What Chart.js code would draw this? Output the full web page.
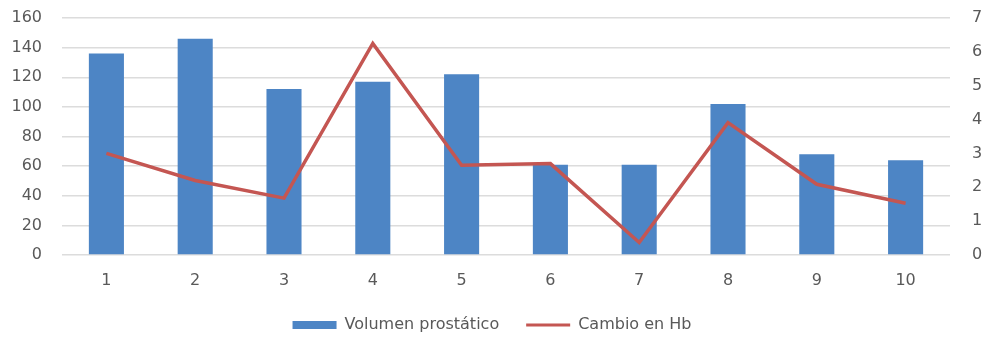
<!DOCTYPE html>
<html>
<head>
<meta charset="utf-8">
<script src="https://cdn.jsdelivr.net/npm/chart.js@4.4.1/dist/chart.umd.min.js"></script>
<style>
  html, body { margin: 0; padding: 0; background: #ffffff; }
  #c { display: block; }
</style>
</head>
<body>
<canvas id="c" width="984" height="337"></canvas>
<script>
// Patients 1–10: prostate volume (left axis) and haemoglobin change (right axis)
const categories = ['1', '2', '3', '4', '5', '6', '7', '8', '9', '10'];
const volumenProstatico = [136, 146, 112, 117, 122, 61, 61, 102, 68, 64];
const cambioHb = [3.0, 2.2, 1.68, 6.25, 2.65, 2.7, 0.37, 3.91, 2.09, 1.53];
const leftTicks = [0, 20, 40, 60, 80, 100, 120, 140, 160];
const rightTicks = [0, 1, 2, 3, 4, 5, 6, 7];

const BLUE = 'rgb(77,133,197)';
const RED = 'rgb(196,86,82)';
const TEXT = '#595959';
const FONT = { family: '"DejaVu Sans", "Open Sans", sans-serif', size: 16 };

// Vertical axes: fixed width, and only a fixed top inset (no tick-padding inflation)
function fitVertical(width) {
  return axis => {
    axis.width = width;
    axis.paddingTop = 18;
    axis.paddingBottom = 0;
  };
}

new Chart(document.getElementById('c'), {
  data: {
    labels: categories,
    datasets: [
      {
        type: 'line',
        label: 'Cambio en Hb',
        data: cambioHb,
        yAxisID: 'yRight',
        borderColor: RED,
        backgroundColor: RED,
        borderWidth: 3.5,
        pointRadius: 0,
        tension: 0,
        order: 0
      },
      {
        type: 'bar',
        label: 'Volumen prostático',
        data: volumenProstatico,
        yAxisID: 'yLeft',
        backgroundColor: BLUE,
        barPercentage: 0.395,
        categoryPercentage: 1,
        order: 1
      }
    ]
  },
  options: {
    responsive: false,
    animation: false,
    devicePixelRatio: 1,
    layout: { padding: { top: 0, bottom: -6, left: 0, right: 0 } },
    plugins: {
      tooltip: { enabled: false },
      legend: {
        position: 'bottom',
        reverse: true,
        labels: {
          color: TEXT,
          font: FONT,
          usePointStyle: true,
          pointStyleWidth: 44,
          boxHeight: 8,
          padding: 27,
          generateLabels(chart) {
            const items = Chart.defaults.plugins.legend.labels.generateLabels(chart);
            items.forEach(it => {
              const ds = chart.data.datasets[it.datasetIndex];
              if (ds.type === 'bar') {
                it.pointStyle = 'rect';
                it.lineWidth = 0;
                it.fillStyle = BLUE;
                it.strokeStyle = BLUE;
              } else {
                it.pointStyle = 'line';
                it.lineWidth = 3;
                it.strokeStyle = RED;
              }
            });
            return items;
          }
        }
      }
    },
    scales: {
      x: {
        afterFit(axis) { axis.height = 35; },
        grid: { display: false, drawTicks: false },
        border: { display: false },
        ticks: { color: TEXT, font: FONT, padding: 16, maxRotation: 0, autoSkip: false }
      },
      yLeft: {
        position: 'left',
        min: 0,
        max: 160,
        afterBuildTicks(axis) { axis.ticks = leftTicks.map(v => ({ value: v })); },
        afterFit: fitVertical(62),
        grid: { color: '#dcdcdc', lineWidth: 1.5, drawTicks: false },
        border: { display: false },
        ticks: { color: TEXT, font: FONT, padding: 20 }
      },
      yRight: {
        position: 'right',
        min: 0,
        max: 7,
        afterBuildTicks(axis) { axis.ticks = rightTicks.map(v => ({ value: v })); },
        afterFit: fitVertical(34),
        grid: { display: false, drawTicks: false },
        border: { display: false },
        ticks: { color: TEXT, font: FONT, padding: 22 }
      }
    }
  }
});
</script>
</body>
</html>
